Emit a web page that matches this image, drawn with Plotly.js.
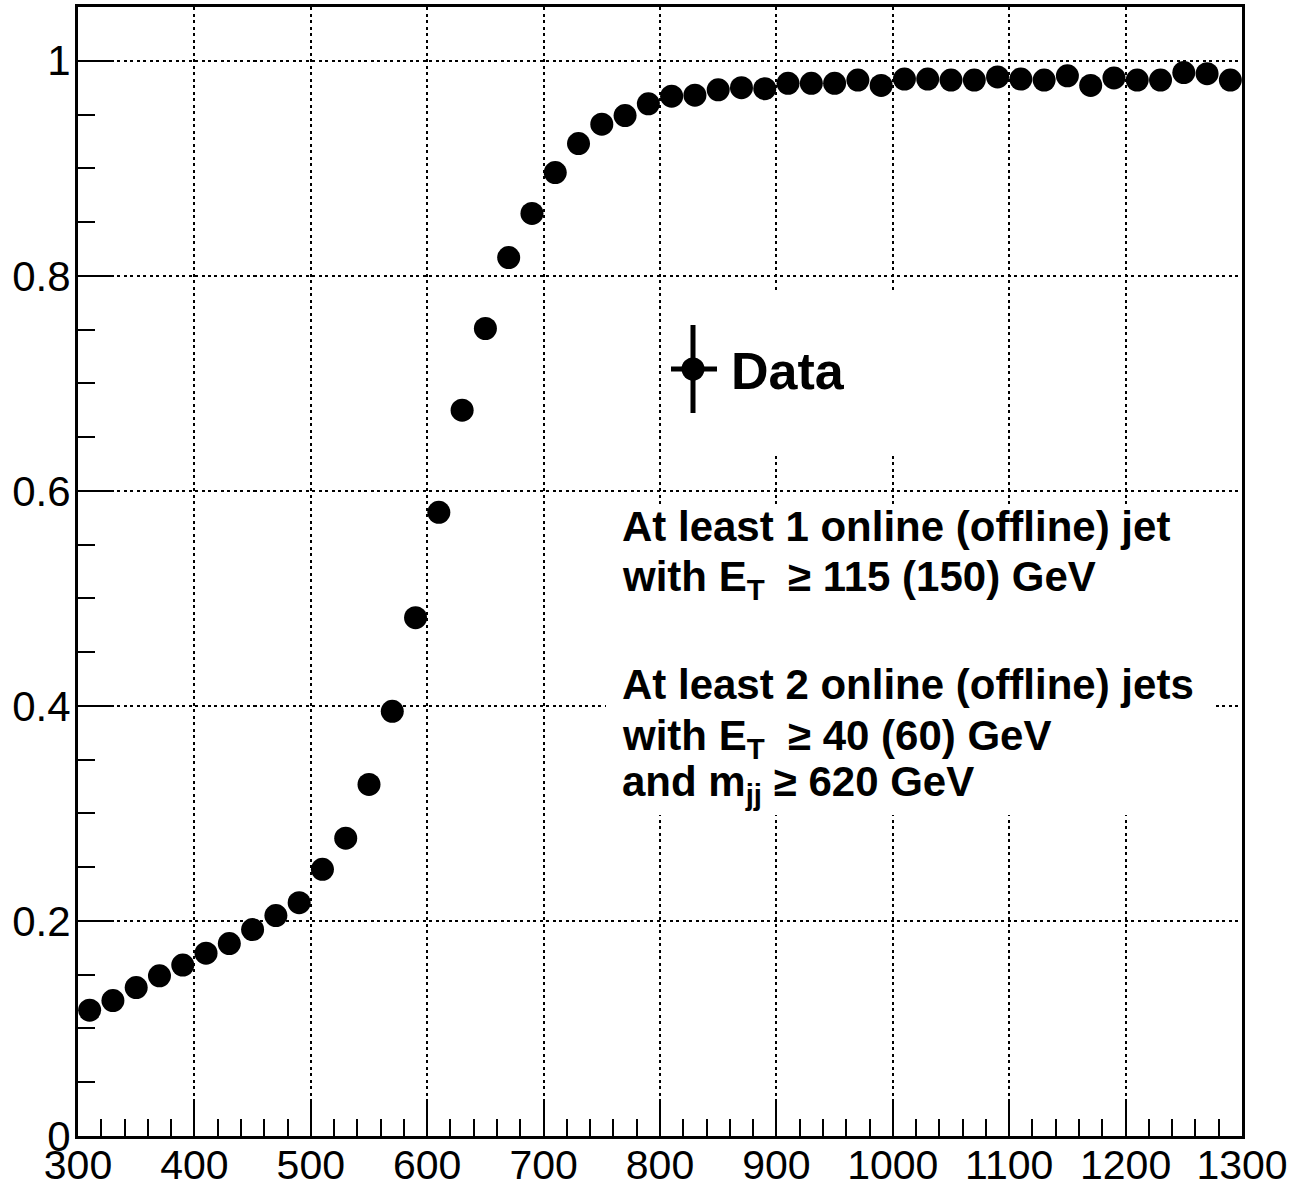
<!DOCTYPE html>
<html>
<head>
<meta charset="utf-8">
<script src="https://cdn.plot.ly/plotly-3.0.1.min.js"></script>
<style>html,body{margin:0;padding:0;background:#fff;}#chart{width:1293px;height:1184px;}</style>
</head>
<body>
<div id="chart"></div>
<script>
// Bin centres (20-unit bins from 300 to 1300)
const binCenters = [310,330,350,370,390,410,430,450,470,490,
                    510,530,550,570,590,610,630,650,670,690,
                    710,730,750,770,790,810,830,850,870,890,
                    910,930,950,970,990,1010,1030,1050,1070,1090,
                    1110,1130,1150,1170,1190,1210,1230,1250,1270,1290];
// Trigger efficiency
const efficiency = [0.117,0.126,0.138,0.149,0.159,0.170,0.179,0.192,0.205,0.217,
                    0.248,0.277,0.327,0.395,0.482,0.580,0.675,0.751,0.817,0.858,
                    0.896,0.923,0.941,0.949,0.960,0.967,0.968,0.973,0.975,0.974,
                    0.979,0.979,0.979,0.982,0.977,0.983,0.983,0.982,0.982,0.985,
                    0.983,0.982,0.986,0.977,0.984,0.982,0.982,0.989,0.988,0.982];
const xTickVals = [300,400,500,600,700,800,900,1000,1100,1200,1300];
const yTickVals = [0,0.2,0.4,0.6,0.8,1];
const legendLabel = 'Data';
const textLines = [
  'At least 1 online (offline) jet',
  'with E<sub>T</sub>  \u2265 115 (150) GeV',
  'At least 2 online (offline) jets',
  'with E<sub>T</sub>  \u2265 40 (60) GeV',
  'and m<sub>jj</sub> \u2265 620 GeV'
];

const FONT = 'Liberation Sans, Arial, Helvetica, sans-serif';
const W = 1293, H = 1184;
const M = {l: 78, r: 51, t: 7, b: 48};
const pw = W - M.l - M.r, ph = H - M.t - M.b;
const px = p => (p - M.l) / pw;          // pixel -> paper x
const py = p => (H - M.b - p) / ph;      // pixel -> paper y

const trace = {
  x: binCenters, y: efficiency, type: 'scatter', mode: 'markers',
  marker: {color: 'black', size: 23, line: {width: 0}},
  showlegend: false, hoverinfo: 'x+y'
};

// text line vertical centres (pixels)
const lineY = [526, 579, 685, 738, 784];
const annotations = textLines.map((t, i) => ({
  text: '<b>' + t + '</b>', xref: 'paper', yref: 'paper',
  x: px(620), y: py(lineY[i]), xanchor: 'left', yanchor: 'middle',
  showarrow: false, font: {family: FONT, size: 42, color: 'black'}
}));
annotations.push({
  text: '<b>' + legendLabel + '</b>', xref: 'paper', yref: 'paper',
  x: px(729), y: py(371), xanchor: 'left', yanchor: 'middle',
  showarrow: false, font: {family: FONT, size: 52, color: 'black'}
});

const shapes = [
  // white panes hiding the grid behind the texts
  {type: 'rect', xref: 'paper', yref: 'paper', x0: px(606), x1: px(1214), y0: py(505), y1: py(815),
   fillcolor: 'white', line: {width: 0}, layer: 'above'},
  {type: 'rect', xref: 'paper', yref: 'paper', x0: px(664), x1: px(910), y0: py(293), y1: py(452),
   fillcolor: 'white', line: {width: 0}, layer: 'above'},
  // legend marker with error bars
  {type: 'line', xref: 'paper', yref: 'paper', x0: px(693), x1: px(693), y0: py(325), y1: py(413),
   line: {color: 'black', width: 5}, layer: 'above'},
  {type: 'line', xref: 'paper', yref: 'paper', x0: px(671), x1: px(717), y0: py(369), y1: py(369),
   line: {color: 'black', width: 5}, layer: 'above'},
  {type: 'circle', xref: 'paper', yref: 'paper', x0: px(681.5), x1: px(704.5), y0: py(357.5), y1: py(380.5),
   fillcolor: 'black', line: {width: 0}, layer: 'above'}
];

const axisCommon = {
  showline: true, linecolor: 'black', linewidth: 3, mirror: true,
  ticks: 'inside', tickcolor: 'black', tickwidth: 2,
  showgrid: true, gridcolor: 'black', gridwidth: 2, griddash: '3px,3.5px',
  zeroline: false
};

const layout = {
  width: W, height: H, margin: M,
  paper_bgcolor: 'white', plot_bgcolor: 'white',
  showlegend: false,
  xaxis: Object.assign({}, axisCommon, {
    range: [300, 1300], tickmode: 'array', tickvals: xTickVals,
    ticklen: 34, ticklabelstandoff: -9,
    tickfont: {family: FONT, size: 41, color: 'black'},
    minor: {dtick: 20, tick0: 300, ticklen: 17, ticks: 'inside', tickwidth: 2, tickcolor: 'black', showgrid: false}
  }),
  yaxis: Object.assign({}, axisCommon, {
    range: [0, 1.05], tickmode: 'array', tickvals: yTickVals,
    ticklen: 35, ticklabelstandoff: -4,
    tickfont: {family: FONT, size: 42, color: 'black'},
    minor: {dtick: 0.05, tick0: 0, ticklen: 17, ticks: 'inside', tickwidth: 2, tickcolor: 'black', showgrid: false}
  }),
  annotations: annotations,
  shapes: shapes
};

Plotly.newPlot('chart', [trace], layout, {displayModeBar: false, staticPlot: true});
</script>
</body>
</html>
